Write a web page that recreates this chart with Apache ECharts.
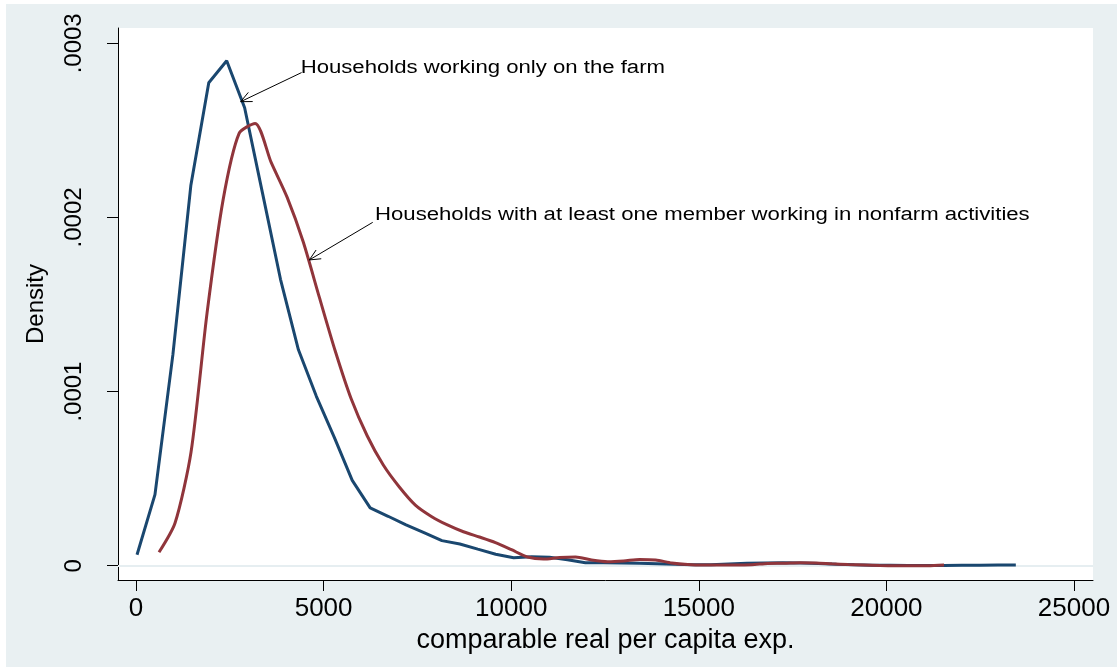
<!DOCTYPE html>
<html>
<head>
<meta charset="utf-8">
<script src="https://cdn.jsdelivr.net/npm/echarts@6/dist/echarts.min.js"></script>
<style>
  html, body { margin: 0; padding: 0; background: #ffffff; }
  #frame { position: absolute; left: 6px; top: 4px; width: 1111px; height: 663px; background: #e9f0f2; }
  #chart { position: absolute; left: 0; top: 0; width: 1117px; height: 667px; }
</style>
</head>
<body>
<div id="frame"></div>
<div id="chart"></div>
<script>
// Axis ticks
const xTickValues = [0, 5000, 10000, 15000, 20000, 25000];
const yTickValues = [0, 0.0001, 0.0002, 0.0003];

// Kernel density: households working only on the farm
const farmX = [27, 505, 983, 1461, 1939, 2417, 2895, 3373, 3851, 4329,
  4807, 5285, 5763, 6241, 6719, 7197, 7675, 8153, 8631, 9109,
  9587, 10065, 10543, 11021, 11499, 11977, 12455, 12933, 13411, 13889,
  14367, 14845, 15323, 15801, 16279, 16757, 17235, 17713, 18191, 18669,
  19147, 19625, 20103, 20581, 21059, 21537, 22015, 22493, 22971, 23449];
const farmDensity = [0.0000063, 0.0000408, 0.0001212, 0.0002183, 0.0002774, 0.0002900, 0.0002630, 0.0002138, 0.0001645, 0.0001240,
  0.0000973, 0.0000737, 0.0000490, 0.0000332, 0.0000284, 0.0000235, 0.0000190, 0.0000144, 0.0000125, 0.0000095,
  0.0000066, 0.0000046, 0.0000052, 0.0000049, 0.0000034, 0.0000017, 0.0000017, 0.0000016, 0.0000014, 0.0000012,
  0.0000008, 0.0000006, 0.0000006, 0.0000010, 0.0000014, 0.0000016, 0.0000017, 0.0000016, 0.0000013, 0.0000008,
  0.0000005, 0.0000003, 0.0000002, 0.0000001, 0.0000001, 0.0000001, 0.0000002, 0.0000003, 0.0000004, 0.0000004];

// Kernel density: households with at least one member in nonfarm activities
const nonfarmX = [613, 1040, 1467, 1894, 2321, 2748, 3175, 3602, 4029, 4456,
  4883, 5310, 5737, 6164, 6591, 7018, 7445, 7872, 8299, 8726,
  9153, 9580, 10007, 10434, 10861, 11288, 11715, 12142, 12569, 12996,
  13423, 13850, 14277, 14704, 15131, 15558, 15985, 16412, 16839, 17266,
  17693, 18120, 18547, 18974, 19401, 19828, 20255, 20682, 21109, 21536];
const nonfarmDensity = [0.0000077, 0.0000245, 0.0000653, 0.0001452, 0.0002101, 0.0002483, 0.0002540, 0.0002316, 0.0002115, 0.0001860,
  0.0001544, 0.0001233, 0.0000957, 0.0000745, 0.0000578, 0.0000452, 0.0000348, 0.0000283, 0.0000234, 0.0000195,
  0.0000165, 0.0000133, 0.0000092, 0.0000050, 0.0000038, 0.0000047, 0.0000050, 0.0000033, 0.0000023, 0.0000027,
  0.0000036, 0.0000033, 0.0000016, 0.0000007, 0.0000004, 0.0000004, 0.0000004, 0.0000006, 0.0000013, 0.0000014,
  0.0000017, 0.0000016, 0.0000011, 0.0000007, 0.0000004, 0.0000001, 0.0000000, 0.0000000, 0.0000000, 0.0000004];

// Callout labels: text anchor (left, baseline), arrow tail and arrow tip in data units
const callouts = [
  { text: 'Households working only on the farm', at: [4389, 0.0002822], tail: [4413, 0.0002832], tip: [2790, 0.0002665] },
  { text: 'Households with at least one member working in nonfarm activities', at: [6370, 0.0001976], tail: [6309, 0.0001972], tip: [4619, 0.0001756] }
];

const FONT = '"Liberation Sans", Arial, sans-serif';
const toPairs = (xs, ys) => xs.map((x, i) => [x, ys[i]]);

const chart = echarts.init(document.getElementById('chart'), null, { renderer: 'canvas' });

chart.setOption({
  animation: false,
  textStyle: { fontFamily: FONT },
  grid: {
    left: 118, top: 28, right: 24, bottom: 87,
    show: true, backgroundColor: '#ffffff', borderWidth: 0
  },
  xAxis: {
    type: 'value',
    min: -480, max: 25506,
    axisLine: { show: true, onZero: false, lineStyle: { color: '#000000', width: 1 } },
    axisTick: { show: true, customValues: xTickValues, length: 11, lineStyle: { color: '#000000', width: 1 } },
    axisLabel: {
      customValues: xTickValues, fontSize: 26, color: '#000000', margin: 16, fontFamily: FONT,
      formatter: v => String(Math.round(v))
    },
    splitLine: { show: false },
    name: 'comparable real per capita exp.',
    nameLocation: 'middle',
    nameGap: 35,
    nameTextStyle: { fontSize: 27, color: '#000000', fontFamily: FONT }
  },
  yAxis: {
    type: 'value',
    min: -0.0000082, max: 0.0003088,
    axisLine: { show: true, onZero: false, lineStyle: { color: '#000000', width: 1 } },
    axisTick: { show: true, customValues: yTickValues, length: 11, lineStyle: { color: '#000000', width: 1 } },
    axisLabel: {
      customValues: yTickValues, rotate: 90, fontSize: 24, color: '#000000', margin: 32, fontFamily: FONT,
      formatter: v => (v === 0 ? '0' : v.toFixed(4).replace(/^0/, ''))
    },
    splitLine: { show: false },
    name: 'Density',
    nameLocation: 'middle',
    nameRotate: 90,
    nameGap: 70,
    nameTextStyle: { fontSize: 24, color: '#000000', fontFamily: FONT }
  },
  series: [
    {
      name: 'gridlines',
      type: 'line',
      data: [],
      silent: true,
      markLine: {
        silent: true,
        z: 1,
        symbol: ['none', 'none'],
        label: { show: false },
        lineStyle: { color: '#e6eef1', width: 2, type: 'solid' },
        data: yTickValues.map(v => ({ yAxis: v }))
      }
    },
    {
      name: 'Households working only on the farm',
      type: 'line',
      z: 3,
      data: toPairs(farmX, farmDensity),
      showSymbol: false,
      smooth: false,
      lineStyle: { color: '#1a476f', width: 3 },
      itemStyle: { color: '#1a476f' }
    },
    {
      name: 'Households with at least one member working in nonfarm activities',
      type: 'line',
      z: 3,
      data: toPairs(nonfarmX, nonfarmDensity),
      showSymbol: false,
      smooth: 0.25,
      lineStyle: { color: '#90353b', width: 3 },
      itemStyle: { color: '#90353b' }
    }
  ]
});

// Callout text and open-headed arrows, positioned through the grid's scales
function drawCallouts() {
  const elements = [];
  const px = p => chart.convertToPixel({ gridIndex: 0 }, p);
  const fontSize = 18;
  callouts.forEach(c => {
    const a = px(c.at), t0 = px(c.tail), t1 = px(c.tip);
    elements.push({
      type: 'text', silent: true, z: 10,
      x: a[0], y: a[1] - fontSize * 0.35,
      scaleX: 1.23,
      style: { text: c.text, fontSize: fontSize, fontFamily: FONT, fill: '#000000', align: 'left', verticalAlign: 'middle' }
    });
    elements.push({
      type: 'line', silent: true, z: 10,
      shape: { x1: t0[0], y1: t0[1], x2: t1[0], y2: t1[1] },
      style: { stroke: '#000000', lineWidth: 1 }
    });
    const ang = Math.atan2(t0[1] - t1[1], t0[0] - t1[0]);
    const len = 12, spread = 25 * Math.PI / 180;
    const armA = [t1[0] + len * Math.cos(ang - spread), t1[1] + len * Math.sin(ang - spread)];
    const armB = [t1[0] + len * Math.cos(ang + spread), t1[1] + len * Math.sin(ang + spread)];
    elements.push({
      type: 'polyline', silent: true, z: 10,
      shape: { points: [armA, t1, armB] },
      style: { stroke: '#000000', lineWidth: 1, fill: null }
    });
  });
  chart.setOption({ graphic: { elements: elements } });
}
drawCallouts();
</script>
</body>
</html>
